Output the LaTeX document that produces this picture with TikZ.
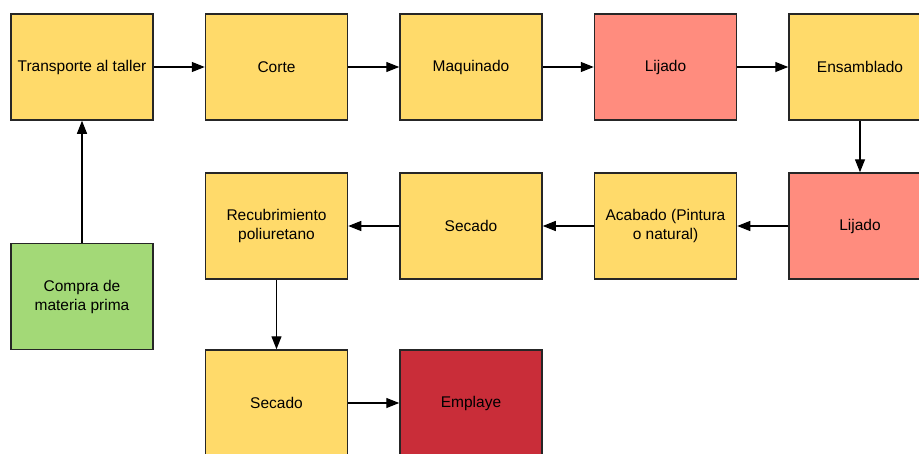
\documentclass[tikz,border=0pt]{standalone}
\usepackage{fontspec}
\setmainfont{Liberation Sans}
\usetikzlibrary{arrows.meta,positioning}

\definecolor{amarillo}{HTML}{FFDA6A}
\definecolor{salmon}{HTML}{FF8C7E}
\definecolor{rojo}{HTML}{C92D39}
\definecolor{verde}{HTML}{A3D977}

\begin{document}
\begin{tikzpicture}[x=1pt, y=-1pt,
    paso/.style={rectangle, draw=black!85, line width=1.5pt, minimum width=142pt, minimum height=106pt, align=center, font=\fontsize{15.5}{19}\selectfont},
    flecha/.style={line width=1.4pt, -{Triangle[length=13pt,width=10pt]}}]
    \useasboundingbox (0,0) rectangle (919,453);
    \node[paso, fill=amarillo] (transporte) at (82,67) {Transporte al taller};
    \node[paso, fill=amarillo, right=51pt of transporte] (corte) {Corte};
    \node[paso, fill=amarillo, right=51pt of corte] (maquinado) {Maquinado};
    \node[paso, fill=salmon, right=51pt of maquinado] (lijado) {Lijado};
    \node[paso, fill=amarillo, right=51pt of lijado] (ensamblado) {Ensamblado};
    \node[paso, fill=salmon, below=51.5pt of ensamblado] (lijadodos) {Lijado};
    \node[paso, fill=amarillo, left=51pt of lijadodos] (acabado) {Acabado (Pintura\\o natural)};
    \node[paso, fill=amarillo, left=51pt of acabado] (secado) {Secado};
    \node[paso, fill=amarillo, left=51pt of secado] (recubrimiento) {Recubrimiento\\poliuretano};
    \node[paso, fill=verde, below=122pt of transporte] (compra) {Compra de\\materia prima};
    \node[paso, fill=amarillo, below=69.5pt of recubrimiento] (secadodos) {Secado};
    \node[paso, fill=rojo, right=51pt of secadodos] (emplaye) {Emplaye};

    \draw[flecha] (compra) -- (transporte);
    \draw[flecha] (transporte) -- (corte);
    \draw[flecha] (corte) -- (maquinado);
    \draw[flecha] (maquinado) -- (lijado);
    \draw[flecha] (lijado) -- (ensamblado);
    \draw[flecha] (ensamblado) -- (lijadodos);
    \draw[flecha] (lijadodos) -- (acabado);
    \draw[flecha] (acabado) -- (secado);
    \draw[flecha] (secado) -- (recubrimiento);
    \draw[flecha] (recubrimiento) -- (secadodos);
    \draw[flecha] (secadodos) -- (emplaye);
\end{tikzpicture}
\end{document}
